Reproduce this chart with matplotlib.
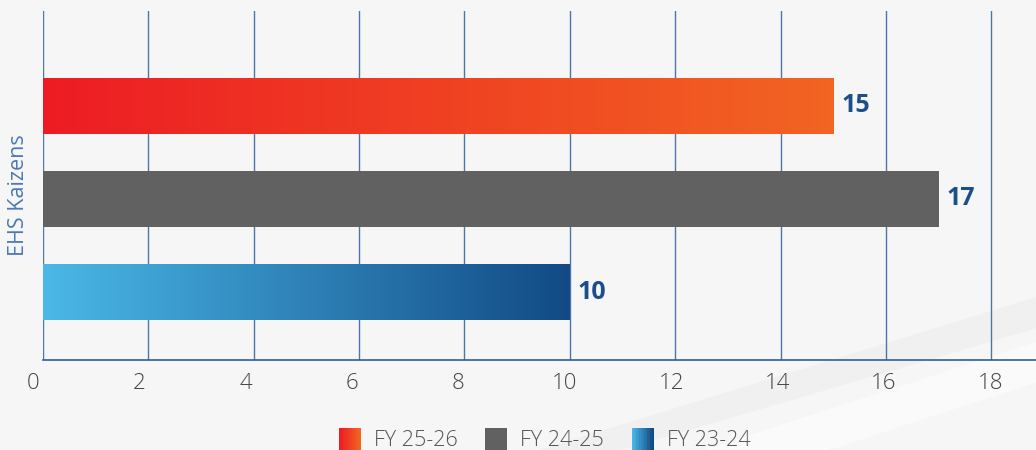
import matplotlib.pyplot as plt
import numpy as np
from matplotlib.colors import LinearSegmentedColormap
from matplotlib.patches import Rectangle, Polygon
from matplotlib.legend_handler import HandlerPatch
from matplotlib.transforms import ScaledTranslation

plt.rcParams['font.family'] = ['Open Sans', 'DejaVu Sans']

# data
years = ['FY 25-26', 'FY 24-25', 'FY 23-24']
kaizens = [15, 17, 10]
bar_colors = [('#ed1c24', '#f26522'), ('#616161', '#616161'), ('#4ab8e8', '#124a85')]
xticks = [0, 2, 4, 6, 8, 10, 12, 14, 16, 18]

bg = '#f6f6f6'
grid_col = '#2f5f9c'
label_col = '#1a4f8b'

fig = plt.figure(figsize=(10.36, 4.5), dpi=100)
fig.patch.set_facecolor(bg)

# faint background swooshes, in their own axes behind everything
bgax = fig.add_axes([0, 0, 1, 1], zorder=-1)
bgax.set_xlim(0, 1)
bgax.set_ylim(0, 1)
bgax.axis('off')
bgax.add_patch(Polygon([[0.52, 0.0], [1.0, 0.34], [1.0, 0.27], [0.60, 0.0]], closed=True,
                       facecolor='#e6e7e7', edgecolor='none', alpha=0.35))
bgax.add_patch(Polygon([[0.68, 0.0], [1.0, 0.24], [1.0, 0.15], [0.80, 0.0]], closed=True,
                       facecolor='#fdfdfd', edgecolor='none', alpha=0.7))

ax = fig.add_axes([0.0415, 0.2, 0.9585, 0.7756], zorder=1)
ax.set_facecolor('none')

ypos = np.arange(len(years))
bars = ax.barh(ypos, kaizens, height=0.6, color='none', zorder=3)

grad = np.linspace(0, 1, 256).reshape(1, -1)
for b, (c1, c2), v in zip(bars, bar_colors, kaizens):
    cmap = LinearSegmentedColormap.from_list('g', [c1, c2])
    x0, y0 = b.get_x(), b.get_y()
    w, h = b.get_width(), b.get_height()
    im = ax.imshow(grad, cmap=cmap, aspect='auto', extent=[x0, x0 + w, y0 + h, y0],
                   zorder=3, interpolation='bicubic')
    im.set_clip_path(b)
    ax.text(v + 0.15, y0 + h / 2, str(v), va='center', ha='left', fontsize=18,
            fontweight='bold', color=label_col, zorder=4)
ax.set_xlim(0, 18.85)
ax.set_ylim(2.73, -1.02)

for t in xticks:
    ax.axvline(t, color=grid_col, lw=1, alpha=0.85, zorder=1)

for s in ['top', 'right', 'left']:
    ax.spines[s].set_visible(False)
ax.spines['bottom'].set_color(grid_col)
ax.spines['bottom'].set_linewidth(1.2)
ax.set_xticks(xticks)
ax.set_xticklabels([])
ax.tick_params(axis='x', length=0)
ax.set_yticks([])

# tick labels, drifting slightly left of the gridlines as in the source
for t in xticks:
    dx = -(10 - 9 * t / 18) / 100
    off = ScaledTranslation(dx, 0, fig.dpi_scale_trans)
    ax.text(t, -0.068, str(t), transform=ax.get_xaxis_transform() + off, ha='center', va='center',
            fontsize=16, fontweight='light', color='#444444')

fig.text(0.0175, 0.567, 'EHS Kaizens', rotation=90, ha='center', va='center',
         fontsize=15.5, color='#4a7ab5')


class GradHandler(HandlerPatch):
    def __init__(self, c1, c2):
        super().__init__()
        self.c1, self.c2 = c1, c2

    def create_artists(self, legend, orig_handle, xdescent, ydescent, width, height, fontsize, trans):
        cmap = LinearSegmentedColormap.from_list('g', [self.c1, self.c2])
        n = 14
        side = 22 * 72 / 100
        x0 = -xdescent + (width - side)
        y0 = -ydescent + (height - side) / 2
        arts = []
        for i in range(n):
            r = Rectangle((x0 + side * i / n, y0), side / n * 1.05, side,
                          facecolor=cmap(i / (n - 1)), edgecolor='none', transform=trans)
            arts.append(r)
        return arts


handles = [Rectangle((0, 0), 1, 1) for _ in years]
hmap = {h: GradHandler(c1, c2) for h, (c1, c2) in zip(handles, bar_colors)}
leg = fig.legend(handles, years, handler_map=hmap, loc='center', bbox_to_anchor=(0.526, 0.02),
                 ncol=3, frameon=False, fontsize=15.5, handlelength=1.0, handletextpad=0.6,
                 columnspacing=1.3, labelcolor='#555555', borderpad=0)
for txt in leg.get_texts():
    txt.set_fontweight('light')

fig.savefig('out.png', dpi=100, facecolor=bg)
